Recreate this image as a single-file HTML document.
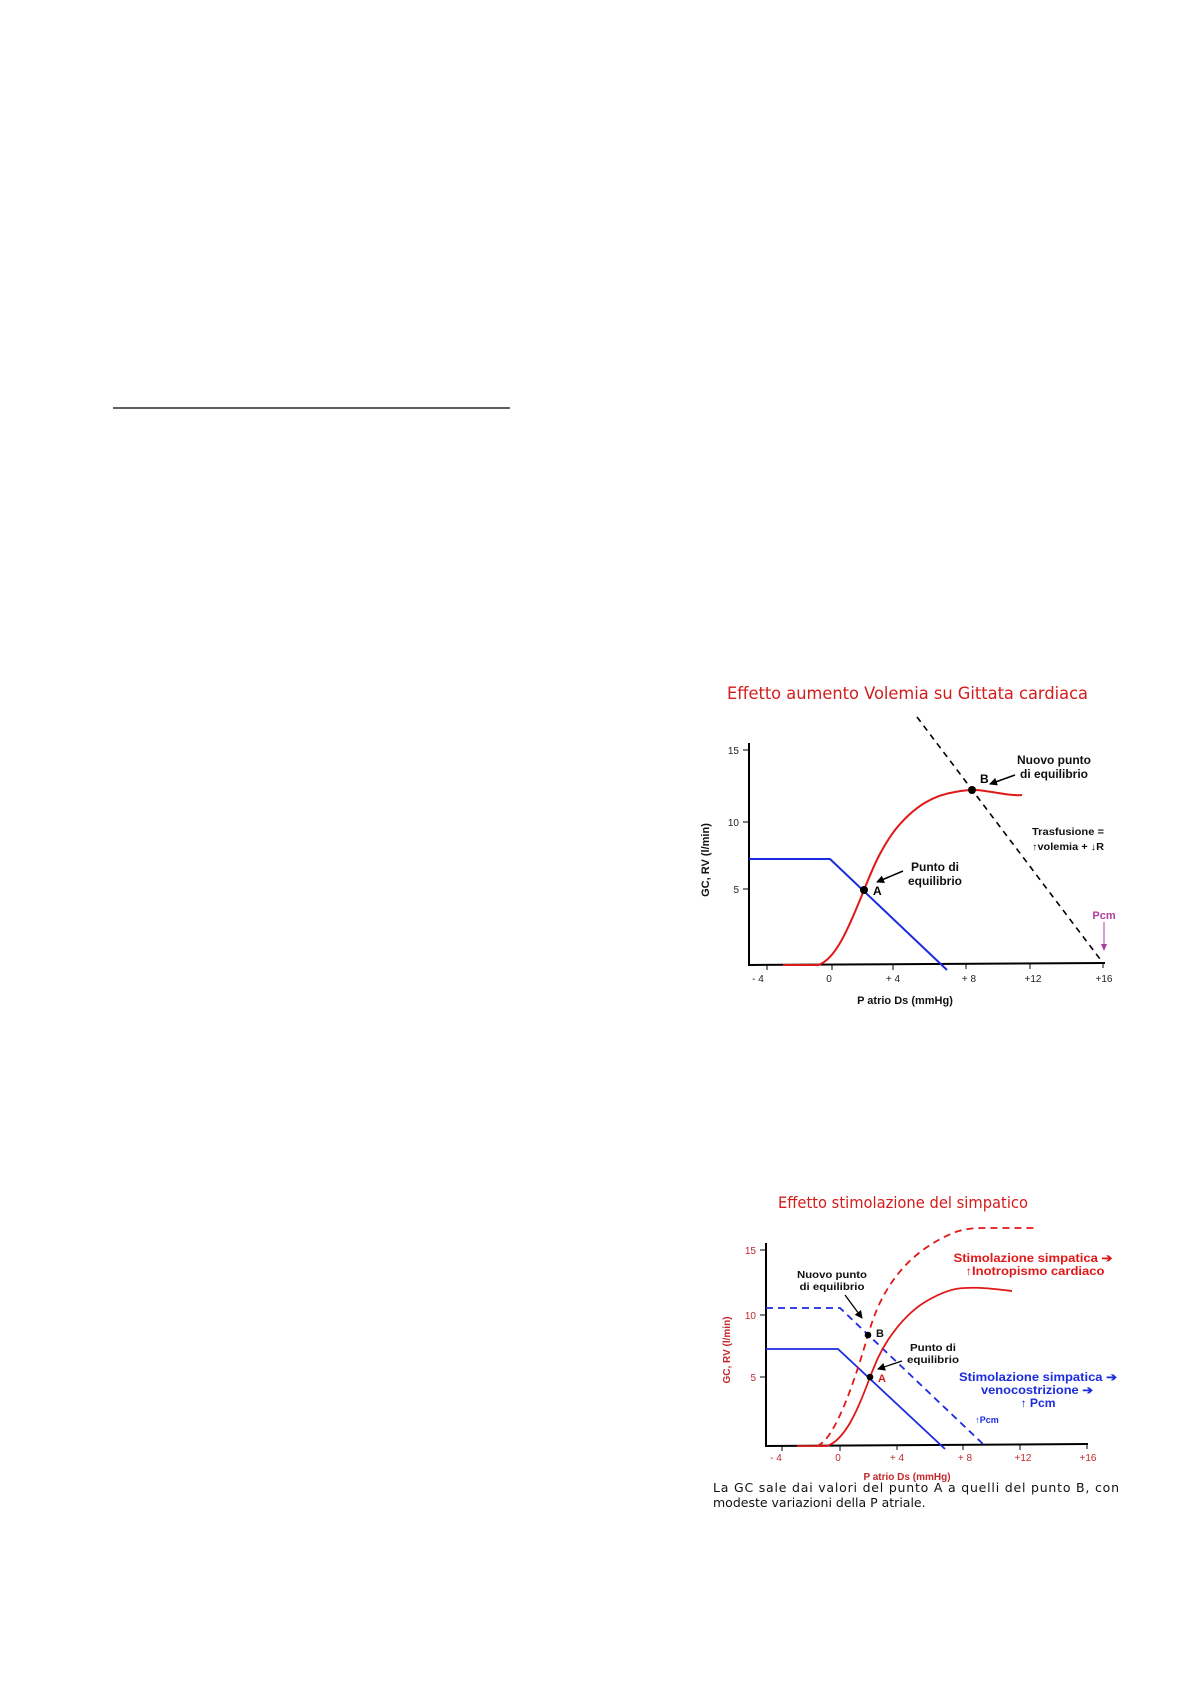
<!DOCTYPE html>
<html><head><meta charset="utf-8"><style>
html,body{margin:0;padding:0;background:#fff;}
svg{display:block;}
text{font-family:"Liberation Sans",Arial,sans-serif;}
.v{font-family:"DejaVu Sans","Liberation Sans",sans-serif;}
</style></head><body>
<svg width="1190" height="1684" viewBox="0 0 1190 1684" xmlns="http://www.w3.org/2000/svg">
<defs>
<marker id="ah" markerWidth="8" markerHeight="8" refX="7" refY="4" orient="auto" markerUnits="userSpaceOnUse"><path d="M0,0 L8,4 L0,8 z" fill="#000"/></marker>
</defs>
<line x1="113" y1="408" x2="510" y2="408" stroke="#000" stroke-width="1.3"/>

<!-- Chart 1 -->
<text class="v" x="727" y="699" font-size="16.5" fill="#d41c1c" textLength="361" lengthAdjust="spacingAndGlyphs">Effetto aumento Volemia su Gittata cardiaca</text>
<line x1="749" y1="743" x2="749" y2="966" stroke="#000" stroke-width="2"/>
<line x1="749" y1="965" x2="1105" y2="963" stroke="#000" stroke-width="2"/>
<g stroke="#000" stroke-width="1">
<line x1="743" y1="750" x2="749" y2="750"/><line x1="743" y1="822" x2="749" y2="822"/><line x1="743" y1="889" x2="749" y2="889"/>
<line x1="767" y1="965" x2="767" y2="970"/><line x1="832" y1="965" x2="832" y2="970"/><line x1="893" y1="965" x2="893" y2="970"/><line x1="966" y1="964" x2="966" y2="969"/><line x1="1030" y1="964" x2="1030" y2="969"/><line x1="1103" y1="963" x2="1103" y2="968"/>
</g>
<g font-size="10" fill="#222" text-anchor="end">
<text x="739" y="754">15</text><text x="739" y="826">10</text><text x="739" y="893">5</text>
</g>
<g font-size="10" fill="#222" text-anchor="middle">
<text x="758" y="982">- 4</text><text x="829" y="982">0</text><text x="893" y="982">+ 4</text><text x="969" y="982">+ 8</text><text x="1033" y="982">+12</text><text x="1104" y="982">+16</text>
</g>
<text x="905" y="1004" font-size="11" font-weight="bold" text-anchor="middle" fill="#111">P atrio Ds (mmHg)</text>
<text x="0" y="0" font-size="11" font-weight="bold" text-anchor="middle" fill="#111" transform="translate(709,860) rotate(-90)">GC, RV (l/min)</text>
<polyline points="749,859 830,859 947,970" fill="none" stroke="#1a2be0" stroke-width="2"/>
<path d="M783,965 L818,965 C835,960 848,930 864,890 C872,870 880,850 895,830 C915,805 935,795 955,792 C965,790 975,789 985,791 C1000,793 1012,796 1022,795" fill="none" stroke="#e01818" stroke-width="2"/>
<line x1="917" y1="717" x2="1103" y2="963" stroke="#000" stroke-width="1.6" stroke-dasharray="6,5"/>
<circle cx="864" cy="890" r="4" fill="#000"/><circle cx="972" cy="790" r="4" fill="#000"/>
<g font-size="12" font-weight="bold" fill="#111" text-anchor="middle">
<text x="1054" y="764">Nuovo punto</text><text x="1054" y="778">di equilibrio</text>
<text x="935" y="871">Punto di</text><text x="935" y="885">equilibrio</text>
</g>
<text x="980" y="783" font-size="12" font-weight="bold">B</text>
<text x="873" y="895" font-size="12" font-weight="bold">A</text>
<line x1="1015" y1="775" x2="990" y2="784" stroke="#000" stroke-width="1.5" marker-end="url(#ah)"/>
<line x1="903" y1="871" x2="877" y2="882" stroke="#000" stroke-width="1.5" marker-end="url(#ah)"/>
<g font-size="10" font-weight="bold" fill="#111" text-anchor="middle">
<text x="1068" y="835" textLength="72" lengthAdjust="spacingAndGlyphs">Trasfusione =</text><text x="1068" y="850" textLength="72" lengthAdjust="spacingAndGlyphs">↑volemia + ↓R</text>
</g>
<text x="1104" y="919" font-size="11" font-weight="bold" fill="#b03ca0" text-anchor="middle">Pcm</text>
<line x1="1104" y1="922" x2="1104" y2="945" stroke="#b03ca0" stroke-width="1"/>
<polygon points="1101,944 1107,944 1104,951" fill="#b03ca0"/>

<!-- Chart 2 -->
<text class="v" x="778" y="1208" font-size="16" fill="#d41c1c" textLength="250" lengthAdjust="spacingAndGlyphs">Effetto stimolazione del simpatico</text>
<line x1="766" y1="1243" x2="766" y2="1447" stroke="#000" stroke-width="2"/>
<line x1="766" y1="1446" x2="1088" y2="1444" stroke="#000" stroke-width="2"/>
<g stroke="#000" stroke-width="1">
<line x1="760" y1="1250" x2="766" y2="1250"/><line x1="760" y1="1315" x2="766" y2="1315"/><line x1="760" y1="1377" x2="766" y2="1377"/>
<line x1="782" y1="1446" x2="782" y2="1451"/><line x1="840" y1="1446" x2="840" y2="1451"/><line x1="897" y1="1445" x2="897" y2="1450"/><line x1="963" y1="1445" x2="963" y2="1450"/><line x1="1020" y1="1445" x2="1020" y2="1450"/><line x1="1087" y1="1444" x2="1087" y2="1449"/>
</g>
<g font-size="10" fill="#c0282c" text-anchor="end">
<text x="756" y="1254">15</text><text x="756" y="1319">10</text><text x="756" y="1381">5</text>
</g>
<g font-size="10" fill="#c0282c" text-anchor="middle">
<text x="776" y="1461">- 4</text><text x="838" y="1461">0</text><text x="897" y="1461">+ 4</text><text x="965" y="1461">+ 8</text><text x="1023" y="1461">+12</text><text x="1088" y="1461">+16</text>
</g>
<text x="907" y="1480" font-size="10" font-weight="bold" text-anchor="middle" fill="#c0282c">P atrio Ds (mmHg)</text>
<text x="0" y="0" font-size="10" font-weight="bold" text-anchor="middle" fill="#c0282c" transform="translate(730,1350) rotate(-90)">GC, RV (l/min)</text>
<polyline points="766,1349 838,1349 945,1449" fill="none" stroke="#1a2be0" stroke-width="1.8"/>
<polyline points="766,1308 840,1308 983,1444" fill="none" stroke="#1a2be0" stroke-width="1.8" stroke-dasharray="7,5"/>
<path d="M797,1446 L827,1446 C845,1440 858,1410 870,1377 C876,1362 880,1352 888,1340 C900,1322 912,1310 925,1302 C940,1293 953,1288 965,1288 C980,1287 995,1289 1012,1291" fill="none" stroke="#e01818" stroke-width="1.8"/>
<path d="M817,1446 C835,1440 855,1380 868,1335 C874,1315 880,1300 890,1285 C905,1262 925,1245 953,1233 C963,1229 972,1228 985,1228 L1038,1228" fill="none" stroke="#e01818" stroke-width="1.8" stroke-dasharray="7,5"/>
<circle cx="870" cy="1377" r="3.3" fill="#000"/><circle cx="868" cy="1335" r="3.3" fill="#000"/>
<g font-size="10" font-weight="bold" fill="#111" text-anchor="middle">
<text x="832" y="1278" textLength="70" lengthAdjust="spacingAndGlyphs">Nuovo punto</text><text x="832" y="1290" textLength="65" lengthAdjust="spacingAndGlyphs">di equilibrio</text>
<text x="933" y="1351" textLength="46" lengthAdjust="spacingAndGlyphs">Punto di</text><text x="933" y="1363" textLength="52" lengthAdjust="spacingAndGlyphs">equilibrio</text>
</g>
<text x="876" y="1337" font-size="11" font-weight="bold" fill="#111">B</text>
<text x="878" y="1382" font-size="11" font-weight="bold" fill="#d41c1c">A</text>
<line x1="845" y1="1295" x2="862" y2="1318" stroke="#000" stroke-width="1.3" marker-end="url(#ah)"/>
<line x1="902" y1="1361" x2="878" y2="1369" stroke="#000" stroke-width="1.3" marker-end="url(#ah)"/>
<g font-size="11.5" font-weight="bold" fill="#e01818" text-anchor="middle">
<text x="1033" y="1262" textLength="159" lengthAdjust="spacingAndGlyphs">Stimolazione simpatica ➔</text><text x="1035" y="1275" textLength="139" lengthAdjust="spacingAndGlyphs">↑Inotropismo cardiaco</text>
</g>
<g font-size="11.5" font-weight="bold" fill="#1a2be0" text-anchor="middle">
<text x="1038" y="1381" textLength="158" lengthAdjust="spacingAndGlyphs">Stimolazione simpatica ➔</text><text x="1037" y="1394" textLength="112" lengthAdjust="spacingAndGlyphs">venocostrizione ➔</text><text x="1038" y="1407" textLength="35" lengthAdjust="spacingAndGlyphs">↑ Pcm</text>
</g>
<text x="987" y="1423" font-size="9" font-weight="bold" fill="#1a2be0" text-anchor="middle">↑Pcm</text>
<text class="v" x="713" y="1492" font-size="12.5" fill="#111" textLength="406" lengthAdjust="spacing">La GC sale dai valori del punto A a quelli del punto B, con</text>
<text class="v" x="713" y="1507" font-size="12.5" fill="#111">modeste variazioni della P atriale.</text>
</svg>
</body></html>
